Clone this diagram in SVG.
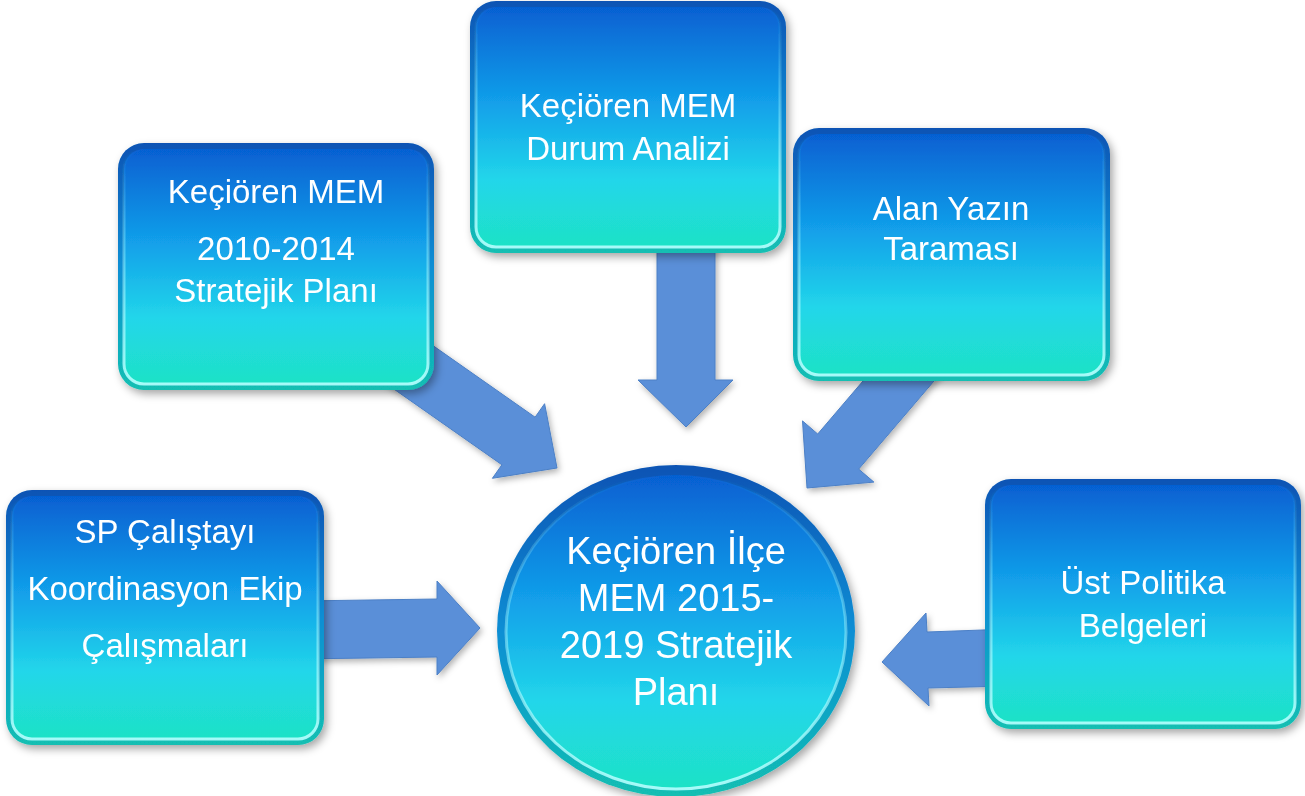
<svg xmlns="http://www.w3.org/2000/svg" width="1305" height="796" viewBox="0 0 1305 796">
<defs>
  <linearGradient id="gMain" x1="0" y1="0" x2="0" y2="1">
    <stop offset="0" stop-color="#0660D2"/>
    <stop offset="0.4" stop-color="#12A0EA"/>
    <stop offset="0.72" stop-color="#22D6EA"/>
    <stop offset="1" stop-color="#1EE2C6"/>
  </linearGradient>
  <linearGradient id="gEdge" x1="0" y1="0" x2="0" y2="1">
    <stop offset="0" stop-color="#0853B4"/>
    <stop offset="0.5" stop-color="#0E8ED4"/>
    <stop offset="1" stop-color="#12BFB2"/>
  </linearGradient>
  <linearGradient id="gHi" x1="0" y1="0" x2="0" y2="1">
    <stop offset="0" stop-color="#9FF6FF" stop-opacity="0"/>
    <stop offset="0.35" stop-color="#9FF6FF" stop-opacity="0.35"/>
    <stop offset="1" stop-color="#B6FFFF" stop-opacity="0.9"/>
  </linearGradient>
  <filter id="sh" x="-10%" y="-10%" width="125%" height="125%">
    <feDropShadow dx="3" dy="4" stdDeviation="4" flood-color="#000" flood-opacity="0.35"/>
  </filter>
  <filter id="ash" x="-10%" y="-10%" width="125%" height="125%">
    <feDropShadow dx="2" dy="3" stdDeviation="3" flood-color="#000" flood-opacity="0.3"/>
  </filter>
</defs>
<style>
  .outer { fill: url(#gEdge); }
  .inner { fill: url(#gMain); stroke: url(#gHi); stroke-width: 3; }
  .t { font-family: "Liberation Sans", Arial, sans-serif; font-size: 33px; fill: #ffffff; text-anchor: middle; }
  .c { font-size: 38px; }
  .arrow { fill: #5A8FD8; stroke: #4C80C6; stroke-width: 1; }
</style>
<rect width="1305" height="796" fill="#ffffff"/>

<g id="connectors" filter="url(#ash)">
  <polygon class="arrow" points="557,468 492.4,478.3 501.9,464.8 362.7,367.2 395.9,319.6 535.1,417.2 544.6,403.7"/>
  <polygon class="arrow" points="686,427 638,380 657,380 657,240 715,240 715,380 733,380"/>
  <polygon class="arrow" points="807,488 873.9,482.1 858.7,469.1 956.2,355.1 915.2,319.9 817.7,434 802.5,420.9"/>
  <polygon class="arrow" points="480,628 437,675 437,657 300,659 300,601 437,599 437,581"/>
  <polygon class="arrow" points="882,662 926,613 927,632 1010,629 1010,686 928,688 929,706"/>
</g>

<g id="node-plan2010" filter="url(#sh)">
  <rect class="outer" x="118" y="143" width="316" height="247" rx="26"/>
  <rect class="inner" x="124" y="149" width="304" height="235" rx="20"/>
  <text class="t" x="276" y="203">Keçiören MEM</text>
  <text class="t" x="276" y="260">2010-2014</text>
  <text class="t" x="276" y="302">Stratejik Planı</text>
</g>

<g id="node-durum" filter="url(#sh)">
  <rect class="outer" x="470" y="1" width="316" height="252" rx="26"/>
  <rect class="inner" x="476" y="7" width="304" height="240" rx="20"/>
  <text class="t" x="628" y="117">Keçiören MEM</text>
  <text class="t" x="628" y="160">Durum Analizi</text>
</g>

<g id="node-alan" filter="url(#sh)">
  <rect class="outer" x="793" y="128" width="317" height="253" rx="26"/>
  <rect class="inner" x="799" y="134" width="305" height="241" rx="20"/>
  <text class="t" x="951" y="220">Alan Yazın</text>
  <text class="t" x="951" y="260">Taraması</text>
</g>

<g id="node-calistay" filter="url(#sh)">
  <rect class="outer" x="6" y="490" width="318" height="255" rx="26"/>
  <rect class="inner" x="12" y="496" width="306" height="243" rx="20"/>
  <text class="t" x="165" y="543">SP Çalıştayı</text>
  <text class="t" x="165" y="600">Koordinasyon Ekip</text>
  <text class="t" x="165" y="657">Çalışmaları</text>
</g>

<g id="node-ust" filter="url(#sh)">
  <rect class="outer" x="985" y="479" width="316" height="250" rx="26"/>
  <rect class="inner" x="991" y="485" width="304" height="238" rx="20"/>
  <text class="t" x="1143" y="594">Üst Politika</text>
  <text class="t" x="1143" y="637">Belgeleri</text>
</g>

<g id="node-center" filter="url(#sh)">
  <ellipse class="outer" cx="676" cy="631" rx="179" ry="166"/>
  <ellipse class="inner" cx="676" cy="632" rx="170" ry="157"/>
  <text class="t c" x="676" y="564">Keçiören İlçe</text>
  <text class="t c" x="676" y="611">MEM 2015-</text>
  <text class="t c" x="676" y="658">2019 Stratejik</text>
  <text class="t c" x="676" y="705">Planı</text>
</g>
</svg>
